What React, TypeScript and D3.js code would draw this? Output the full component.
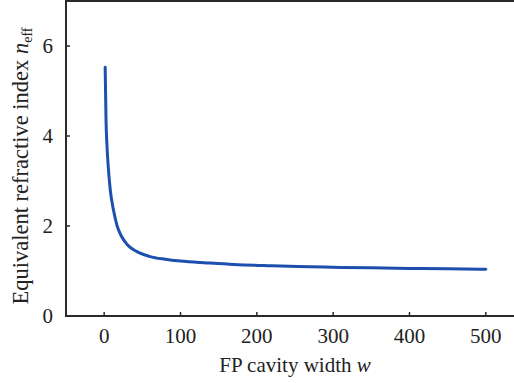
import React from "react";
import * as d3 from "d3";

// FP cavity width (w) vs equivalent refractive index (n_eff)
const widths = [1.3, 2.5, 3.5, 5, 8, 12, 17, 23, 30, 43, 60, 80, 100, 135, 170, 220, 270, 310, 350, 400, 450, 500];
const nEff = [5.53, 4.3, 3.85, 3.4, 2.8, 2.37, 2.0, 1.76, 1.59, 1.43, 1.32, 1.26, 1.22, 1.18, 1.145, 1.117, 1.095, 1.08, 1.07, 1.057, 1.048, 1.04];

const xTicks = [0, 100, 200, 300, 400, 500];
const yTicks = [0, 2, 4, 6];

const W = 514;
const H = 383;
const FONT = "'Times New Roman', 'Liberation Serif', 'DejaVu Serif', serif";

export default function App() {
  const margin = { left: 66, top: 1, bottom: 316 };
  const x = d3.scaleLinear().domain([-50, 550]).range([margin.left, 524]);
  const y = d3.scaleLinear().domain([0, 7]).range([margin.bottom, margin.top]);

  const pts = widths.map((w, i) => ({ w, n: nEff[i] }));
  const line = d3
    .line<{ w: number; n: number }>()
    .x((d) => x(d.w))
    .y((d) => y(d.n))
    .curve(d3.curveMonotoneX);

  const axisColor = "#2a2a2a";
  const txt = { fontFamily: FONT, fontSize: "21px" };

  return (
    <svg
      width={W}
      height={H}
      style={{ position: "absolute", left: 0, top: 0, background: "#fff" }}
    >
      <rect x={0} y={0} width={W} height={H} fill="#fff" />

      {/* frame */}
      <rect
        x={x(-50)}
        y={y(7)}
        width={x(550) - x(-50)}
        height={y(0) - y(7)}
        fill="none"
        stroke={axisColor}
        strokeWidth={2}
      />

      {/* x ticks */}
      {xTicks.map((t) => (
        <g key={"x" + t}>
          <line x1={x(t)} x2={x(t)} y1={y(0)} y2={y(0) - 4} stroke={axisColor} strokeWidth={1.5} />
          <text x={x(t)} y={343} textAnchor="middle" style={txt} fill="#222">
            {t}
          </text>
        </g>
      ))}

      {/* y ticks */}
      {yTicks.map((t) => (
        <g key={"y" + t}>
          <line x1={x(-50)} x2={x(-50) + 4} y1={y(t)} y2={y(t)} stroke={axisColor} strokeWidth={1.5} />
          <text x={53} y={y(t) + 7} textAnchor="end" style={txt} fill="#222">
            {t}
          </text>
        </g>
      ))}

      {/* curve */}
      <path d={line(pts) || ""} fill="none" stroke="#1d4fae" strokeWidth={3} strokeLinecap="round" />

      {/* axis titles */}
      <text x={x(250)} y={372} textAnchor="middle" style={txt} fill="#222">
        FP cavity width <tspan fontStyle="italic">w</tspan>
      </text>
      <text
        transform="translate(28, 166) rotate(-90)"
        textAnchor="middle"
        style={{ fontFamily: FONT, fontSize: "22.5px" }}
        fill="#222"
      >
        Equivalent refractive index <tspan fontStyle="italic">n</tspan>
        <tspan style={{ fontSize: "14px" }} dy={4}>eff</tspan>
      </text>
    </svg>
  );
}
